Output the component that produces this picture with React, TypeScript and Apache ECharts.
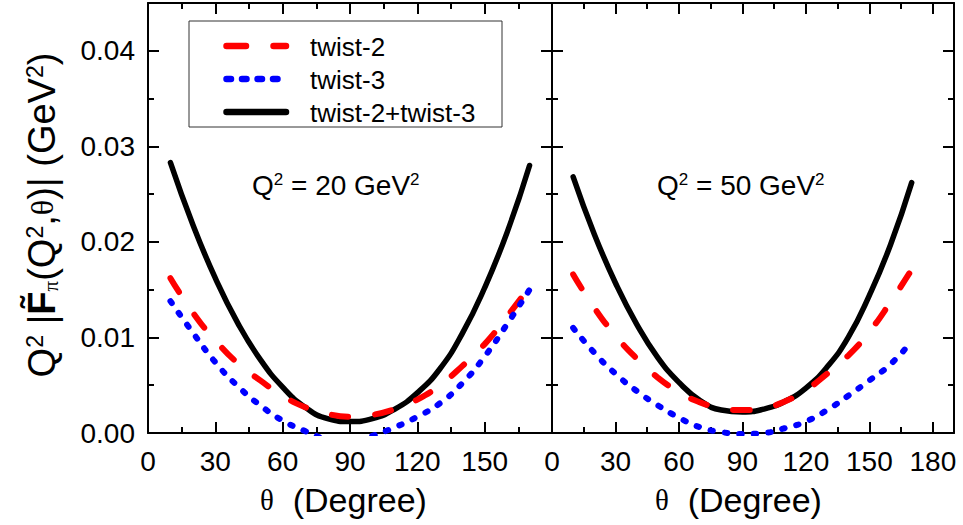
import React, { useEffect, useRef } from "react";
import * as echarts from "echarts";

// ---------------- data ----------------
const THETA = [10, 20, 30, 40, 50, 60, 70, 80, 90, 100, 110, 120, 130, 140, 150, 160, 170];

// Q^2 = 20 GeV^2
const Q20_TWIST2 = [0.0162, 0.0126, 0.0097, 0.0073, 0.0055, 0.0039, 0.0027, 0.002, 0.0017, 0.0019, 0.0025, 0.0035, 0.005, 0.007, 0.0093, 0.0122, 0.0153];
const Q20_TWIST3 = [0.0138, 0.0105, 0.0074, 0.0049, 0.0029, 0.0013, 0.0002, -0.0007, -0.0011, -0.0003, 0.0006, 0.0017, 0.0031, 0.0052, 0.008, 0.0114, 0.015];
const Q20_TOTAL = [0.0283, 0.0218, 0.0162, 0.0115, 0.0077, 0.0048, 0.0027, 0.0015, 0.0012, 0.0015, 0.0025, 0.0042, 0.0067, 0.0104, 0.0152, 0.021, 0.028];

// Q^2 = 50 GeV^2
const Q50_TWIST2 = [0.0166, 0.0131, 0.0102, 0.0078, 0.0058, 0.0043, 0.0032, 0.0026, 0.0024, 0.0026, 0.0033, 0.0045, 0.0062, 0.0081, 0.0106, 0.0137, 0.0171];
const Q50_TWIST3 = [0.011, 0.0084, 0.0062, 0.0044, 0.0029, 0.0016, 0.0006, 0.0001, -0.0001, 0.0, 0.0005, 0.0012, 0.0024, 0.0039, 0.0055, 0.0072, 0.0096];
const Q50_TOTAL = [0.0268, 0.0208, 0.0157, 0.0114, 0.0079, 0.0053, 0.0034, 0.0024, 0.0022, 0.0025, 0.0033, 0.0047, 0.0069, 0.01, 0.0144, 0.0197, 0.0262];

// axes
const X_MAJOR = [0, 30, 60, 90, 120, 150, 180];
const X_MINOR = [15, 45, 75, 105, 135, 165];
const X_LABELS_LEFT = [0, 30, 60, 90, 120, 150];
const X_LABELS_RIGHT = [0, 30, 60, 90, 120, 150, 180];
const X_MAX = [180, 190];
const Y_MAJOR = [0, 0.01, 0.02, 0.03, 0.04];
const Y_MINOR = [0.005, 0.015, 0.025, 0.035];
const Y_MAX = 0.045;

const SERIES_NAMES = ["twist-2", "twist-3", "twist-2+twist-3"];
const PANEL_Q2 = ["20", "50"];

// ---------------- styling ----------------
const FONT = '"Liberation Sans", Arial, Helvetica, sans-serif';
const SERIF = '"Liberation Serif", "Times New Roman", serif';
const RED = "#ff0000";
const BLUE = "#0000ff";
const BLACK = "#000000";

const GRIDS = [
  { left: 148, top: 3, width: 404, height: 430 },
  { left: 552, top: 3, width: 402, height: 430 },
];

const axisLineStyle = { color: BLACK, width: 2 };

function makeXAxes(g: number) {
  const base: any = {
    type: "value",
    gridIndex: g,
    min: 0,
    max: X_MAX[g],
    splitLine: { show: false },
  };
  const labels = g === 0 ? X_LABELS_LEFT : X_LABELS_RIGHT;
  return [
    {
      ...base,
      position: "bottom",
      axisLine: { show: true, onZero: false, lineStyle: axisLineStyle },
      axisTick: { show: true, inside: true, length: 11, customValues: X_MAJOR, lineStyle: axisLineStyle },
      axisLabel: { show: true, customValues: labels, fontSize: 28, color: BLACK, fontFamily: FONT, margin: 14 },
    },
    {
      ...base,
      position: "bottom",
      axisLine: { show: false, onZero: false },
      axisTick: { show: true, inside: true, length: 6, customValues: X_MINOR, lineStyle: axisLineStyle },
      axisLabel: { show: false },
    },
    {
      ...base,
      position: "top",
      axisLine: { show: true, onZero: false, lineStyle: axisLineStyle },
      axisTick: { show: true, inside: true, length: 11, customValues: X_MAJOR, lineStyle: axisLineStyle },
      axisLabel: { show: false },
    },
    {
      ...base,
      position: "top",
      axisLine: { show: false, onZero: false },
      axisTick: { show: true, inside: true, length: 6, customValues: X_MINOR, lineStyle: axisLineStyle },
      axisLabel: { show: false },
    },
  ];
}

function makeYAxes(g: number) {
  const base: any = {
    type: "value",
    gridIndex: g,
    min: 0,
    max: Y_MAX,
    splitLine: { show: false },
  };
  return [
    {
      ...base,
      position: "left",
      axisLine: { show: true, onZero: false, lineStyle: axisLineStyle },
      axisTick: { show: true, inside: true, length: 11, customValues: Y_MAJOR, lineStyle: axisLineStyle },
      axisLabel: {
        show: g === 0,
        customValues: Y_MAJOR,
        fontSize: 28,
        color: BLACK,
        fontFamily: FONT,
        margin: 13,
        formatter: (v: number) => v.toFixed(2),
      },
    },
    {
      ...base,
      position: "left",
      axisLine: { show: false, onZero: false },
      axisTick: { show: true, inside: true, length: 6, customValues: Y_MINOR, lineStyle: axisLineStyle },
      axisLabel: { show: false },
    },
    {
      ...base,
      position: "right",
      axisLine: { show: true, onZero: false, lineStyle: axisLineStyle },
      axisTick: { show: true, inside: true, length: 11, customValues: Y_MAJOR, lineStyle: axisLineStyle },
      axisLabel: { show: false },
    },
    {
      ...base,
      position: "right",
      axisLine: { show: false, onZero: false },
      axisTick: { show: true, inside: true, length: 6, customValues: Y_MINOR, lineStyle: axisLineStyle },
      axisLabel: { show: false },
    },
  ];
}

const pairs = (ys: number[]) => THETA.map((t, i) => [t, ys[i]]);

function makeSeries() {
  const panels = [
    { t2: Q20_TWIST2, t3: Q20_TWIST3, tot: Q20_TOTAL },
    { t2: Q50_TWIST2, t3: Q50_TWIST3, tot: Q50_TOTAL },
  ];
  const out: any[] = [];
  panels.forEach((p, g) => {
    const common = {
      type: "line",
      xAxisIndex: g * 4,
      yAxisIndex: g * 4,
      symbol: "none",
      showSymbol: false,
      smooth: 0.5,
      clip: true,
    };
    out.push({
      ...common,
      name: SERIES_NAMES[2],
      data: pairs(p.tot),
      itemStyle: { color: BLACK },
      lineStyle: { color: BLACK, width: 5.5, cap: "round" },
      z: 2,
    });
    out.push({
      ...common,
      name: SERIES_NAMES[0],
      data: pairs(p.t2),
      itemStyle: { color: RED },
      lineStyle: { color: RED, width: 6, type: [16.5, 27], cap: "round" },
      z: 3,
    });
    out.push({
      ...common,
      name: SERIES_NAMES[1],
      data: pairs(p.t3),
      itemStyle: { color: BLUE },
      lineStyle: { color: BLUE, width: 6, type: [2.5, 12], cap: "round" },
      z: 4,
    });
  });
  return out;
}

const richMain = (size: number) => ({
  m: { fontSize: size, fontFamily: FONT, color: BLACK, lineHeight: size },
  th: { fontSize: size * 0.85, fontFamily: SERIF, color: BLACK, lineHeight: size },
  sup: { fontSize: Math.round(size * 0.6), fontFamily: FONT, color: BLACK, verticalAlign: "top" },
  sub: { fontSize: Math.round(size * 0.55), fontFamily: SERIF, color: BLACK, verticalAlign: "bottom" },
  fb: { fontSize: size, fontFamily: FONT, color: BLACK, lineHeight: size, fontWeight: "bold" },
});

function makeGraphics() {
  const els: any[] = [];
  // legend box
  els.push({
    type: "rect",
    shape: { x: 189, y: 21, width: 313, height: 106 },
    style: { fill: "#ffffff", stroke: "#333333", lineWidth: 1 },
    z: 10,
  });
  const rows = [
    { y: 46, color: RED, dash: [19.5, 27.5], x2: 286, label: SERIES_NAMES[0] },
    { y: 79, color: BLUE, dash: [4.5, 11], x2: 280, label: SERIES_NAMES[1] },
    { y: 112, color: BLACK, dash: null as any, x2: 286, label: SERIES_NAMES[2] },
  ];
  rows.forEach((r) => {
    els.push({
      type: "line",
      shape: { x1: 226.5, y1: r.y, x2: r.x2, y2: r.y },
      style: { stroke: r.color, lineWidth: 6.5, lineDash: r.dash || undefined, lineCap: "round" },
      z: 11,
    });
    els.push({
      type: "text",
      x: 310,
      y: r.y + 1,
      style: { text: r.label, fontSize: 26, fontFamily: FONT, fill: BLACK, align: "left", verticalAlign: "middle" },
      z: 11,
    });
  });
  // panel labels
  const qx = [252, 657];
  PANEL_Q2.forEach((q, g) => {
    els.push({
      type: "text",
      x: qx[g],
      y: 185,
      style: {
        text: `{m|Q}{sup|2}{m| = ${q} GeV}{sup|2}`,
        rich: richMain(28),
        fontSize: 28,
        fontFamily: FONT,
        fill: BLACK,
        align: "left",
        verticalAlign: "middle",
      },
      z: 11,
    });
  });
  // x axis titles
  const tx = [260, 655];
  tx.forEach((x) => {
    els.push({
      type: "text",
      x,
      y: 500,
      style: {
        text: "{th|\u03b8}{m|  (Degree)}",
        rich: richMain(34),
        fontSize: 34,
        fontFamily: FONT,
        fill: BLACK,
        align: "left",
        verticalAlign: "middle",
      },
      z: 11,
    });
  });
  // y axis title
  els.push({
    type: "text",
    x: 42,
    y: 215,
    rotation: Math.PI / 2,
    style: {
      text: "{m|Q}{sup|2}{m| |}{fb|F\u0303}{sub|\u03c0}{m|(Q}{sup|2}{m|,}{th|\u03b8}{m|)| (GeV}{sup|2}{m|)}",
      rich: richMain(38),
      fontSize: 38,
      fontFamily: FONT,
      fill: BLACK,
      align: "center",
      verticalAlign: "middle",
    },
    z: 11,
  });
  return els;
}

export default function App() {
  const ref = useRef<HTMLDivElement>(null);
  useEffect(() => {
    if (!ref.current) return;
    const chart = echarts.init(ref.current, undefined, { renderer: "svg" });
    const option: any = {
      animation: false,
      backgroundColor: "#ffffff",
      grid: GRIDS.map((g) => ({ ...g, containLabel: false, outerBoundsMode: "none" })),
      xAxis: [...makeXAxes(0), ...makeXAxes(1)],
      yAxis: [...makeYAxes(0), ...makeYAxes(1)],
      series: makeSeries(),
      graphic: makeGraphics(),
    };
    chart.setOption(option);
    return () => chart.dispose();
  }, []);
  return (
    <div
      ref={ref}
      style={{ position: "fixed", left: 0, top: 0, width: 963, height: 525, background: "#fff" }}
    />
  );
}
